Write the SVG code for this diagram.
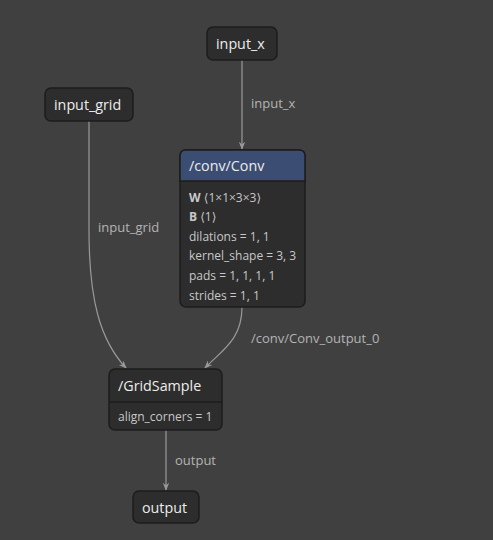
<svg xmlns="http://www.w3.org/2000/svg" width="493" height="540" viewBox="0 0 493 540">
<defs>
<marker id="arr" viewBox="0 0 10 10" refX="9" refY="5" markerWidth="8" markerHeight="8" markerUnits="userSpaceOnUse" orient="auto">
<path d="M0,1 L10,5 L0,9 L3,5 Z" fill="#999"/>
</marker>
</defs>
<style>
text{font-family:"Open Sans","Noto Sans","DejaVu Sans",sans-serif;}
.node{fill:#2d2d2d;stroke:#1c1c1c;stroke-width:1.5;}
.title{fill:#ececec;font-size:14.3px;}
.attr{fill:#c8c8c8;font-size:12px;}
.bold{font-weight:bold;}
.edge{fill:none;stroke:#999;stroke-width:1.2;marker-end:url(#arr);}
.elabel{fill:#b4b4b4;font-size:13px;}
</style>
<rect width="493" height="540" fill="#404040"/>
<g id="edges">
<path class="edge" d="M242,60 L242,149"/>
<path class="edge" d="M89,121 L89,230 C89,300 100,340 126,368"/>
<path class="edge" d="M242,307 C242,340 222,350 205,368"/>
<path class="edge" d="M166,430 L166,490"/>
<text class="elabel" x="251" y="108">input_x</text>
<text class="elabel" x="98" y="232">input_grid</text>
<text class="elabel" x="251" y="343">/conv/Conv_output_0</text>
<text class="elabel" x="175" y="465">output</text>
</g>
<g id="input_x">
<rect class="node" x="207" y="27" width="70" height="33" rx="6"/>
<text class="title" x="216" y="49">input_x</text>
</g>
<g id="input_grid">
<rect class="node" x="45" y="88" width="88" height="33" rx="6"/>
<text class="title" x="54" y="110">input_grid</text>
</g>
<g id="conv">
<rect class="node" x="180" y="150" width="125" height="157" rx="6"/>
<path d="M180,181 L180,156 Q180,150 186,150 L299,150 Q305,150 305,156 L305,181 Z" fill="#3b4d72" stroke="#1c1c1c" stroke-width="1.5"/>
<text class="title" x="189" y="171">/conv/Conv</text>
<text class="attr" x="189" y="202"><tspan class="bold">W</tspan> ⟨1×1×3×3⟩</text>
<text class="attr" x="189" y="221"><tspan class="bold">B</tspan> ⟨1⟩</text>
<text class="attr" x="189" y="241">dilations = 1, 1</text>
<text class="attr" x="189" y="260">kernel_shape = 3, 3</text>
<text class="attr" x="189" y="280">pads = 1, 1, 1, 1</text>
<text class="attr" x="189" y="300">strides = 1, 1</text>
</g>
<g id="gridsample">
<rect class="node" x="109" y="369" width="113" height="61" rx="6"/>
<line x1="109" y1="402" x2="222" y2="402" stroke="#1c1c1c" stroke-width="1.5"/>
<text class="title" x="118" y="391">/GridSample</text>
<text class="attr" x="118" y="421">align_corners = 1</text>
</g>
<g id="output">
<rect class="node" x="133" y="491" width="66" height="32" rx="6"/>
<text class="title" x="142" y="513">output</text>
</g>
</svg>
